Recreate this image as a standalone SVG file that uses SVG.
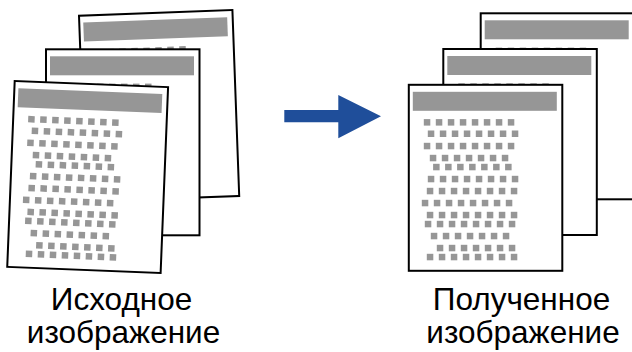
<svg xmlns="http://www.w3.org/2000/svg" xmlns:xlink="http://www.w3.org/1999/xlink" width="632" height="352" viewBox="0 0 632 352">
<style>
.sheet{fill:#fff;stroke:#000;stroke-width:2}
.bar{fill:#969696}
.dot{fill:#969696}
.lbl{font-family:"Liberation Sans",Arial,sans-serif;font-size:31.5px;fill:#000;text-anchor:middle}
</style>
<defs>
<g id="row8"><rect class="dot" x="0" y="0" width="6.5" height="6.5"/><rect class="dot" x="12" y="0" width="6.5" height="6.5"/><rect class="dot" x="24" y="0" width="6.5" height="6.5"/><rect class="dot" x="36" y="0" width="6.5" height="6.5"/><rect class="dot" x="48" y="0" width="6.5" height="6.5"/><rect class="dot" x="60" y="0" width="6.5" height="6.5"/><rect class="dot" x="72" y="0" width="6.5" height="6.5"/><rect class="dot" x="84" y="0" width="6.5" height="6.5"/></g>
<g id="row7"><rect class="dot" x="0" y="0" width="6.5" height="6.5"/><rect class="dot" x="12" y="0" width="6.5" height="6.5"/><rect class="dot" x="24" y="0" width="6.5" height="6.5"/><rect class="dot" x="36" y="0" width="6.5" height="6.5"/><rect class="dot" x="48" y="0" width="6.5" height="6.5"/><rect class="dot" x="60" y="0" width="6.5" height="6.5"/><rect class="dot" x="72" y="0" width="6.5" height="6.5"/></g>
<g id="page">
<rect class="sheet" x="0" y="0" width="153.5" height="186"/>
<rect class="bar" x="4" y="7" width="144" height="19"/>
<use xlink:href="#row8" x="15" y="34.3"/>
<use xlink:href="#row8" x="19" y="45.7"/>
<use xlink:href="#row8" x="15" y="58"/>
<use xlink:href="#row7" x="21" y="70"/>
<use xlink:href="#row7" x="24.3" y="79"/>
<use xlink:href="#row8" x="19" y="91"/>
<use xlink:href="#row8" x="18" y="103"/>
<use xlink:href="#row8" x="13" y="115"/>
<use xlink:href="#row8" x="18" y="127"/>
<use xlink:href="#row8" x="16" y="136"/>
<use xlink:href="#row7" x="22" y="148"/>
<use xlink:href="#row7" x="28" y="160"/>
<use xlink:href="#row8" x="18" y="169"/>
</g>
</defs>
<rect x="0" y="0" width="632" height="352" fill="#fff"/>
<g id="source-stack">
<g id="source-back"><use xlink:href="#page" transform="translate(79,15.7) rotate(-2.1)"/></g>
<g id="source-middle"><use xlink:href="#page" transform="translate(46,49.3)"/></g>
<g id="source-front"><use xlink:href="#page" transform="translate(14.7,81) rotate(2.3)"/></g>
<text class="lbl" x="121.5" y="310">Исходное</text>
<text class="lbl" x="123.5" y="343">изображение</text>
</g>
<g id="result-stack">
<g id="result-back"><use xlink:href="#page" transform="translate(480.7,13.3)"/></g>
<g id="result-middle"><use xlink:href="#page" transform="translate(443.3,49)"/></g>
<g id="result-front"><use xlink:href="#page" transform="translate(408.8,84.8)"/></g>
<text class="lbl" x="521.5" y="310">Полученное</text>
<text class="lbl" x="523" y="343">изображение</text>
</g>
<g id="connectors">
<path d="M284.3,110 H338.3 V95 L381,116.2 L338.3,138.3 V122.3 H284.3 Z" fill="#1f4e9a"/>
</g>
</svg>
